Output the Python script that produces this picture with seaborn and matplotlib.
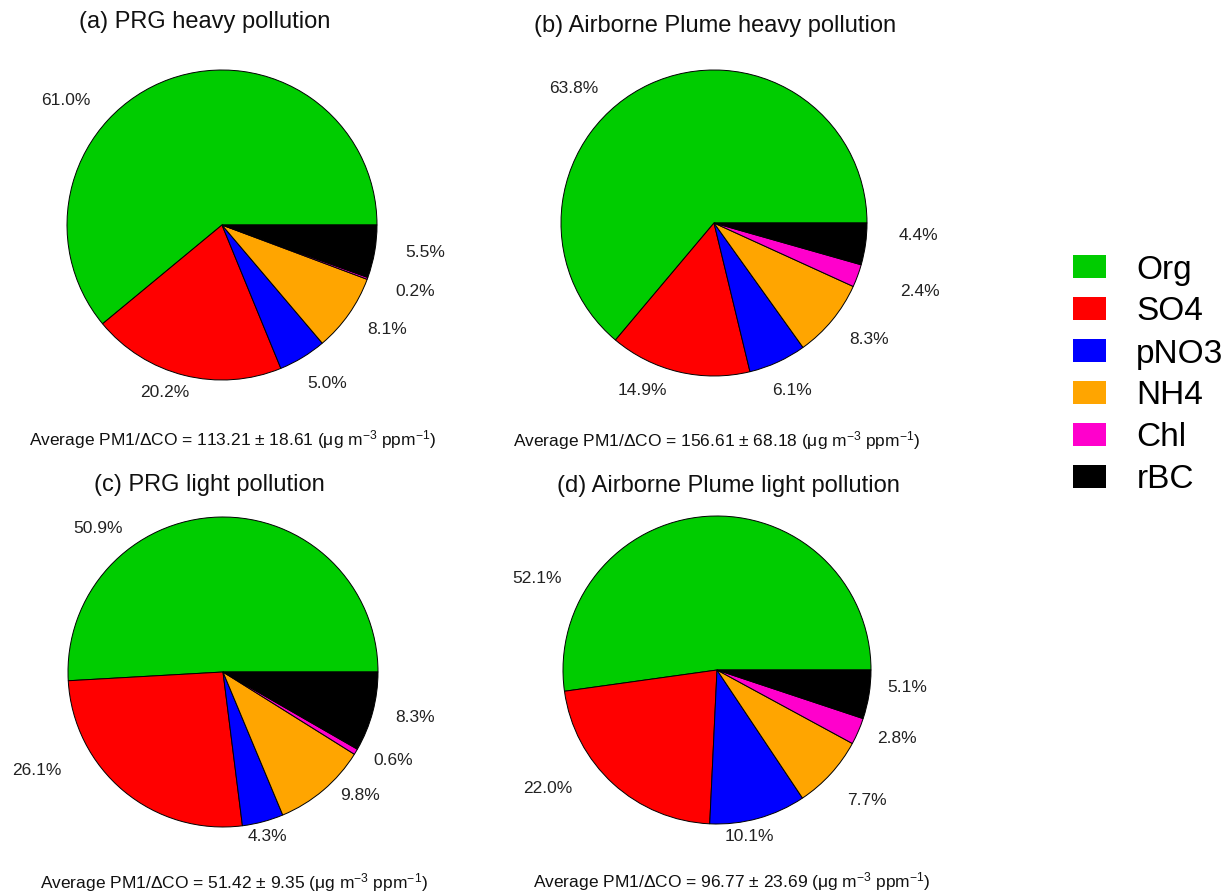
import numpy as np
import matplotlib
matplotlib.use("Agg")
import matplotlib.pyplot as plt
from matplotlib.patches import Patch
import seaborn as sns

# data
species = ["Org", "SO4", "pNO3", "NH4", "Chl", "rBC"]
prg_heavy = [61.0, 20.2, 5.0, 8.1, 0.2, 5.5]
plume_heavy = [63.8, 14.9, 6.1, 8.3, 2.4, 4.4]
prg_light = [50.9, 26.1, 4.3, 9.8, 0.6, 8.3]
plume_light = [52.1, 22.0, 10.1, 7.7, 2.8, 5.1]
titles = ["(a) PRG heavy pollution", "(b) Airborne Plume heavy pollution",
          "(c) PRG light pollution", "(d) Airborne Plume light pollution"]
ratio_mean = [113.21, 156.61, 51.42, 96.77]
ratio_sd = [18.61, 68.18, 9.35, 23.69]

sns.set_theme(style="white")
plt.rcParams["font.family"] = ["Liberation Sans", "DejaVu Sans"]
plt.rcParams["mathtext.fontset"] = "custom"
plt.rcParams["mathtext.rm"] = "Liberation Sans"
plt.rcParams["mathtext.it"] = "Liberation Sans:italic"

colors = sns.color_palette(["#00CC00", "#FF0000", "#0000FF", "#FFA500", "#FF00CC", "#000000"])

W, H = 1232, 894
fig = plt.figure(figsize=(W / 100, H / 100), dpi=100)

# layout (pixels from top-left): pie centre, radius, title pos, footer pos
centres = [(222, 225), (714, 223), (223, 672), (717, 670)]
radii = [155, 153, 155, 154]
title_xy = [(205, 22), (715, 26), (209, 485), (728, 486)]
foot_xy = [(233, 440), (717, 441), (234, 883), (732, 882)]
# label (angle in deg, distance in radii), tuned by eye
label_pos = [
    [(141.5, 1.29), (251, 1.14), (303.6, 1.23), (327.7, 1.26), (340.9, 1.32), (352.4, 1.32)],
    [(136.2, 1.27), (247, 1.19), (295, 1.21), (323, 1.27), (341.7, 1.42), (356.6, 1.34)],
    [(131, 1.23), (208, 1.36), (285, 1.10), (318, 1.19), (332.5, 1.24), (346.7, 1.27)],
    [(153, 1.31), (215, 1.34), (281, 1.10), (318.9, 1.29), (339.3, 1.25), (354.6, 1.24)],
]

L = 1.55
for i, vals in enumerate([prg_heavy, plume_heavy, prg_light, plume_light]):
    cx, cy = centres[i]
    r = radii[i]
    ax = fig.add_axes([(cx - L * r) / W, (H - cy - L * r) / H, 2 * L * r / W, 2 * L * r / H])
    ax.pie(vals, colors=colors, startangle=0, counterclock=True,
           wedgeprops=dict(edgecolor="black", linewidth=0.7))
    ax.set_xlim(-L, L)
    ax.set_ylim(-L, L)
    ax.set_axis_off()
    for v, (ang, d) in zip(vals, label_pos[i]):
        a = np.deg2rad(ang)
        ax.text(d * np.cos(a), d * np.sin(a), f"{v:.1f}%", ha="center", va="center",
                fontsize=12.5, color="#222222")
    tx, ty = title_xy[i]
    fig.text(tx / W, 1 - ty / H, titles[i], ha="center", va="center", fontsize=17, color="#111111")
    fx, fy = foot_xy[i]
    fig.text(fx / W, 1 - fy / H,
             f"Average PM1/ΔCO = {ratio_mean[i]:.2f} ± {ratio_sd[i]:.2f} (μg m$^{{-3}}$ ppm$^{{-1}}$)",
             ha="center", va="center", fontsize=12.5, color="#111111")

handles = [Patch(facecolor=c, edgecolor="none", label=s) for c, s in zip(colors, species)]
fig.legend(handles=handles, loc="center left", bbox_to_anchor=(1073 / W, 1 - 375 / H),
           frameon=False, fontsize=24, handlelength=1.0, handleheight=0.67,
           handletextpad=0.9, labelspacing=0.33, borderpad=0, borderaxespad=0,
           labelcolor="black")

fig.savefig("out.png", dpi=100)
